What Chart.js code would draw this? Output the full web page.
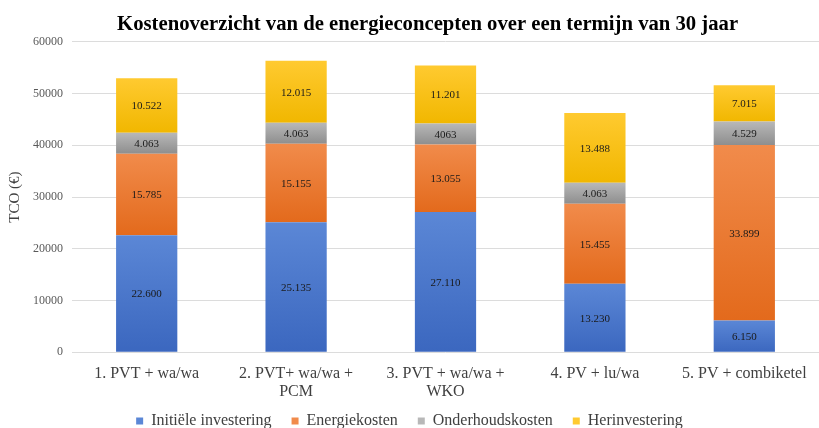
<!DOCTYPE html>
<html>
<head>
<meta charset="utf-8">
<script src="https://cdn.jsdelivr.net/npm/chart.js@4"></script>
<style>
  html, body { margin: 0; padding: 0; background: #fff; }
  #wrap { width: 819px; height: 428px; }
</style>
</head>
<body>
<div id="wrap"><canvas id="chartCanvas" width="819" height="428"></canvas></div>
<script>
const categories = [
  "1. PVT + wa/wa",
  ["2. PVT+ wa/wa +", "PCM"],
  ["3. PVT + wa/wa +", "WKO"],
  "4. PV + lu/wa",
  "5. PV + combiketel"
];
const initieel = [22600, 25135, 27110, 13230, 6150];
const energie = [15785, 15155, 13055, 15455, 33899];
const onderhoud = [4063, 4063, 4063, 4063, 4529];
const herinvestering = [10522, 12015, 11201, 13488, 7015];

const initieelLabels = ["22.600", "25.135", "27.110", "13.230", "6.150"];
const energieLabels = ["15.785", "15.155", "13.055", "15.455", "33.899"];
const onderhoudLabels = ["4.063", "4.063", "4063", "4.063", "4.529"];
const herinvesteringLabels = ["10.522", "12.015", "11.201", "13.488", "7.015"];

const serif = "'Liberation Serif', 'DejaVu Serif', serif";
const nbsp = "\u00A0";

// top / bottom colour of each segment (office style gradient)
const shades = [
  ["#5b87d6", "#3b67bf"],
  ["#f18b4b", "#e36a1c"],
  ["#b8b8b8", "#8e8e8e"],
  ["#ffca30", "#f1b700"]
];

function segmentFill(c) {
  const chart = c.chart;
  const y = chart.scales.y;
  if (!y || c.dataIndex === undefined) return shades[c.datasetIndex][0];
  let below = 0;
  for (let k = 0; k < c.datasetIndex; k++) below += chart.data.datasets[k].data[c.dataIndex];
  const top = y.getPixelForValue(below + chart.data.datasets[c.datasetIndex].data[c.dataIndex]);
  const bottom = y.getPixelForValue(below);
  if (!isFinite(top) || !isFinite(bottom)) return shades[c.datasetIndex][0];
  const g = chart.ctx.createLinearGradient(0, top, 0, bottom);
  g.addColorStop(0, shades[c.datasetIndex][0]);
  g.addColorStop(1, shades[c.datasetIndex][1]);
  return g;
}

const segmentLabels = {
  id: "segmentLabels",
  afterDatasetsDraw(chart) {
    const { ctx } = chart;
    ctx.save();
    ctx.font = `11px ${serif}`;
    ctx.fillStyle = "#1a1a1a";
    ctx.textAlign = "center";
    ctx.textBaseline = "middle";
    chart.data.datasets.forEach((ds, i) => {
      const meta = chart.getDatasetMeta(i);
      meta.data.forEach((bar, j) => {
        ctx.fillText(ds.segLabels[j], bar.x, (bar.y + bar.base) / 2 + 1);
      });
    });
    ctx.restore();
  }
};

const ctx = document.getElementById("chartCanvas").getContext("2d");
new Chart(ctx, {
  type: "bar",
  data: {
    labels: categories,
    datasets: [
      { label: "Initiële investering", data: initieel, segLabels: initieelLabels, backgroundColor: segmentFill },
      { label: "Energiekosten", data: energie, segLabels: energieLabels, backgroundColor: segmentFill },
      { label: "Onderhoudskosten", data: onderhoud, segLabels: onderhoudLabels, backgroundColor: segmentFill },
      { label: "Herinvestering", data: herinvestering, segLabels: herinvesteringLabels, backgroundColor: segmentFill }
    ]
  },
  options: {
    responsive: false,
    animation: false,
    layout: { padding: { left: 0, right: 0, top: 0, bottom: -11 } },
    datasets: { bar: { barPercentage: 0.41, categoryPercentage: 1 } },
    scales: {
      x: {
        stacked: true,
        grid: { display: false, drawTicks: false },
        border: { display: false },
        ticks: { color: "#404040", font: { family: serif, size: 16, lineHeight: 1.15 }, maxRotation: 0, padding: 12 }
      },
      y: {
        stacked: true,
        min: 0, max: 60000,
        grid: { color: "#dcdcdc", drawTicks: false },
        border: { display: false },
        ticks: {
          stepSize: 10000,
          color: "#595959",
          font: { family: serif, size: 12 },
          padding: 9,
          callback: v => String(v)
        },
        title: {
          display: true, text: "TCO (€)", color: "#404040",
          font: { family: serif, size: 15 }, padding: { top: 6, bottom: 0 }
        }
      }
    },
    plugins: {
      title: {
        display: true,
        text: nbsp.repeat(7) + "Kostenoverzicht van de energieconcepten over een termijn van 30 jaar",
        color: "#000",
        font: { family: serif, size: 20.7, weight: "bold" },
        padding: { top: 12, bottom: 5 }
      },
      legend: {
        position: "bottom",
        labels: {
          boxWidth: 7, boxHeight: 7, color: "#404040", font: { family: serif, size: 16 }, padding: 0,
          generateLabels(chart) {
            const items = Chart.defaults.plugins.legend.labels.generateLabels(chart);
            items.forEach((it, i) => {
              it.fillStyle = shades[i][0];
              it.strokeStyle = shades[i][0];
              it.lineWidth = 0;
              if (i < items.length - 1) it.text = it.text + nbsp.repeat(5);
            });
            return items;
          }
        }
      },
      tooltip: { enabled: false }
    }
  },
  plugins: [segmentLabels]
});
</script>
</body>
</html>
